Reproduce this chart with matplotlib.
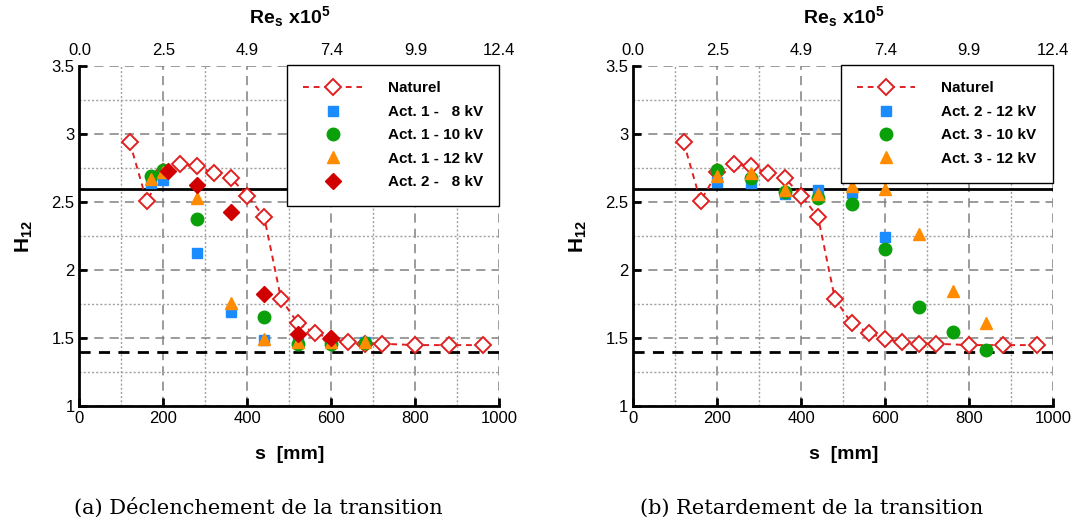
import matplotlib
matplotlib.use("Agg")
import matplotlib.pyplot as plt
from matplotlib.ticker import MultipleLocator

plt.rcParams['font.family'] = ['Liberation Sans', 'DejaVu Sans']
plt.rcParams['mathtext.fontset'] = 'custom'
plt.rcParams['mathtext.rm'] = 'Liberation Sans'
plt.rcParams['mathtext.bf'] = 'Liberation Sans:bold'

# natural transition (same in both panels)
s_nat = [120, 160, 200, 240, 280, 320, 360, 400, 440, 480, 520, 560, 600,
         640, 680, 720, 800, 880, 960]
h_nat = [2.94, 2.51, 2.72, 2.785, 2.765, 2.715, 2.68, 2.55, 2.39, 1.79, 1.61,
         1.54, 1.495, 1.47, 1.46, 1.46, 1.45, 1.45, 1.45]

# (a) triggering
s_a1_8 = [170, 200, 280, 360, 440, 520, 600, 680]
h_a1_8 = [2.645, 2.665, 2.13, 1.695, 1.49, 1.47, 1.47, 1.47]
s_a1_10 = [170, 200, 280, 440, 520, 600, 680]
h_a1_10 = [2.69, 2.735, 2.375, 1.655, 1.46, 1.46, 1.465]
s_a1_12 = [170, 200, 280, 360, 440, 520, 600, 680]
h_a1_12 = [2.675, 2.725, 2.53, 1.757, 1.495, 1.475, 1.475, 1.475]
s_a2_8 = [210, 280, 360, 440, 520, 600]
h_a2_8 = [2.73, 2.625, 2.43, 1.825, 1.535, 1.505]

# (b) delay
s_b2_12 = [200, 280, 360, 440, 520, 600]
h_b2_12 = [2.652, 2.64, 2.559, 2.59, 2.566, 2.247]
s_b3_10 = [200, 280, 360, 440, 520, 600, 680, 760, 840]
h_b3_10 = [2.737, 2.676, 2.578, 2.529, 2.49, 2.154, 1.733, 1.544, 1.414]
s_b3_12 = [200, 280, 360, 440, 520, 600, 680, 760, 840]
h_b3_12 = [2.693, 2.713, 2.59, 2.559, 2.617, 2.596, 2.27, 1.848, 1.615]

re_ticks = [0, 200, 400, 600, 800, 1000]
re_labels = ['0.0', '2.5', '4.9', '7.4', '9.9', '12.4']

BLUE = '#1a8cff'
GREEN = '#0aa00a'
ORANGE = '#ff8c00'
DRED = '#d00000'
NRED = '#e02020'

fig = plt.figure(figsize=(10.78, 5.25), dpi=100)
axA = fig.add_axes([0.0737, 0.2261, 0.3896, 0.6476])
axB = fig.add_axes([0.5875, 0.2261, 0.3896, 0.6476])


def setup(ax):
    ax.set_xlim(0, 1000)
    ax.set_ylim(1, 3.5)
    ax.xaxis.set_major_locator(MultipleLocator(200))
    ax.xaxis.set_minor_locator(MultipleLocator(100))
    ax.yaxis.set_major_locator(MultipleLocator(0.5))
    ax.yaxis.set_minor_locator(MultipleLocator(0.25))
    ax.set_yticks([1, 1.5, 2, 2.5, 3, 3.5])
    ax.set_yticklabels(['1', '1.5', '2', '2.5', '3', '3.5'])
    ax.grid(which='major', color='#808080', linestyle=(0, (6, 4)), linewidth=1.1)
    ax.grid(which='minor', color='#a0a0a0', linestyle=(0, (1.5, 1.5)), linewidth=1.0)
    ax.set_axisbelow(True)
    for sp in ['top', 'right']:
        ax.spines[sp].set_visible(False)
    for sp in ['left', 'bottom']:
        ax.spines[sp].set_linewidth(2)
    ax.tick_params(which='major', direction='in', length=6, width=2, labelsize=12)
    ax.tick_params(which='minor', direction='in', length=0)
    ax.axhline(2.6, color='black', linewidth=2, zorder=2)
    ax.axhline(1.4, color='black', linewidth=2, linestyle=(0, (4, 3)), zorder=2)
    ax.set_xlabel('s  [mm]', fontsize=14, fontweight='bold', labelpad=14)
    ax.set_ylabel(r'$\mathbf{H_{12}}$', fontsize=15, labelpad=12)
    top = ax.twiny()
    top.set_xlim(0, 1000)
    top.set_xticks(re_ticks)
    top.set_xticklabels(re_labels)
    top.tick_params(length=0, labelsize=12, pad=6)
    for sp in top.spines.values():
        sp.set_visible(False)
    top.set_xlabel(r'$\mathbf{Re_s\ x10^5}$', fontsize=14, labelpad=14)
    ax.plot(s_nat, h_nat, linestyle=(0, (3, 2.5)), color=NRED, linewidth=1.4,
            marker='D', markersize=8.5, markerfacecolor='white',
            markeredgecolor=NRED, markeredgewidth=1.4, label='Naturel', zorder=3)


setup(axA)
axA.plot(s_a1_8, h_a1_8, 's', color=BLUE, markersize=7.5, linestyle='none',
         label='Act. 1 -   8 kV', zorder=4)
axA.plot(s_a1_10, h_a1_10, 'o', color=GREEN, markersize=9, linestyle='none',
         label='Act. 1 - 10 kV', zorder=4)
axA.plot(s_a1_12, h_a1_12, '^', color=ORANGE, markersize=8.5, linestyle='none',
         label='Act. 1 - 12 kV', zorder=4)
axA.plot(s_a2_8, h_a2_8, 'D', color=DRED, markersize=8, linestyle='none',
         label='Act. 2 -   8 kV', zorder=4)

setup(axB)
axB.plot(s_b2_12, h_b2_12, 's', color=BLUE, markersize=7.5, linestyle='none',
         label='Act. 2 - 12 kV', zorder=4)
axB.plot(s_b3_10, h_b3_10, 'o', color=GREEN, markersize=9, linestyle='none',
         label='Act. 3 - 10 kV', zorder=4)
axB.plot(s_b3_12, h_b3_12, '^', color=ORANGE, markersize=8.5, linestyle='none',
         label='Act. 3 - 12 kV', zorder=4)

for ax in (axA, axB):
    leg = ax.legend(loc='upper right', bbox_to_anchor=(1.0, 1.005),
                    prop={'weight': 'bold', 'size': 11}, frameon=True,
                    fancybox=False, edgecolor='black', framealpha=1,
                    handlelength=3.8, borderpad=1.1, labelspacing=0.62,
                    handletextpad=1.7, borderaxespad=0)
    leg.get_frame().set_linewidth(1.0)
    leg.set_zorder(10)

fig.text(0.2393, 0.022, '(a) Déclenchement de la transition', ha='center',
         fontsize=15, family='DejaVu Serif')
fig.text(0.7532, 0.022, '(b) Retardement de la transition', ha='center',
         fontsize=15, family='DejaVu Serif')

fig.savefig('out.png', dpi=100)
